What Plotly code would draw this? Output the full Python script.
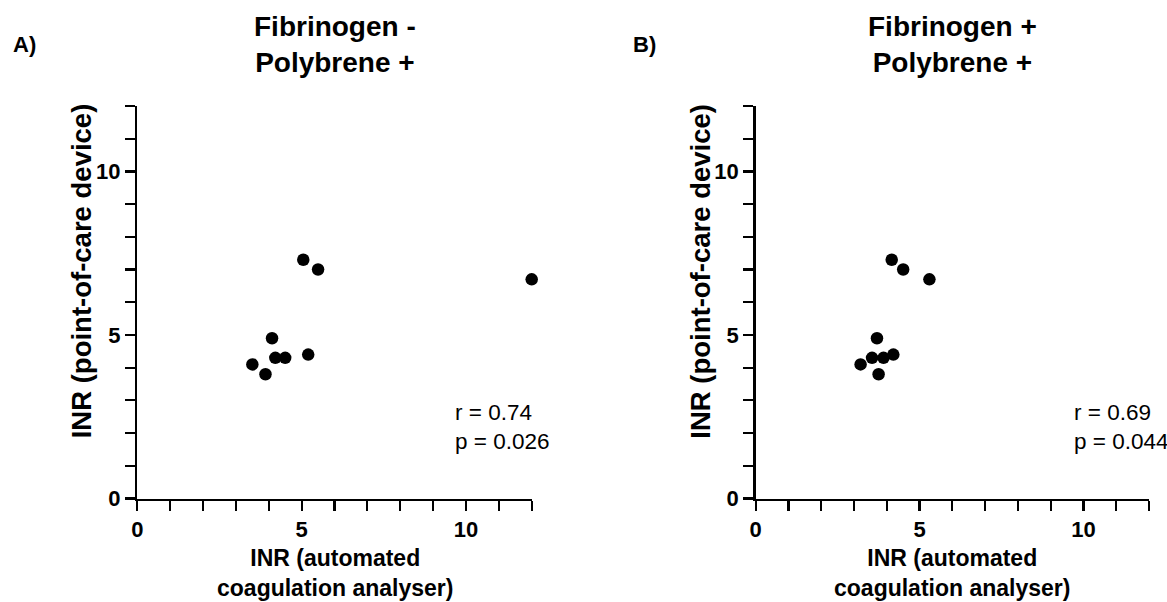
import plotly.graph_objects as go

# Data
poc_inr = [7.3, 7.0, 4.9, 4.3, 4.3, 4.4, 4.1, 3.8, 6.7]              # y (point-of-care device)
lab_inr_A = [5.05, 5.5, 4.1, 4.2, 4.5, 5.2, 3.5, 3.9, 12.0]           # x, panel A
lab_inr_B = [4.15, 4.5, 3.7, 3.55, 3.9, 4.2, 3.2, 3.75, 5.3]          # x, panel B
panel_labels = ["A)", "B)"]
panel_titles = ["Fibrinogen -<br>Polybrene +", "Fibrinogen +<br>Polybrene +"]
stats = ["r = 0.74<br>p = 0.026", "r = 0.69<br>p = 0.044"]
tick_vals = [0, 5, 10]
tick_text = ["0", "5", "10"]
axis_range = [0, 12]
x_title = "INR (automated<br>coagulation analyser)"
y_title = "INR (point-of-care device)"

W, H = 1167, 602
OFF = 0  # page body margin removed via post_script
FONT = "Arial, Liberation Sans, Helvetica, sans-serif"

def px_x(p):
    return (p - OFF) / W

def px_y(p):
    return 1 - (p - OFF) / H

domA = [px_x(137.3), px_x(531.7)]
domB = [px_x(755.7), px_x(1149.0)]
domY = [px_y(498.5), px_y(106.0)]

fig = go.Figure()
fig.add_trace(go.Scatter(x=lab_inr_A, y=poc_inr, mode="markers",
                         marker=dict(color="black", size=12.5),
                         cliponaxis=False,
                         xaxis="x", yaxis="y", showlegend=False))
fig.add_trace(go.Scatter(x=lab_inr_B, y=poc_inr, mode="markers",
                         marker=dict(color="black", size=12.5),
                         cliponaxis=False,
                         xaxis="x2", yaxis="y2", showlegend=False))

def axis_style(**kw):
    d = dict(range=axis_range, showgrid=False, zeroline=False, showline=True,
             linecolor="black", linewidth=2.5, ticks="outside", ticklen=10,
             tickwidth=2.2, tickcolor="black", tickvals=tick_vals, ticktext=tick_text,
             tickfont=dict(family=FONT, size=22, color="black", weight="bold"),
             minor=dict(dtick=1, tick0=0, ticks="outside", ticklen=10,
                        tickwidth=2.2, tickcolor="black", showgrid=False),
             automargin=False, fixedrange=True)
    d.update(kw)
    return d

fig.update_layout(
    width=W, height=H,
    margin=dict(l=0, r=0, t=0, b=0, autoexpand=False),
    plot_bgcolor="white", paper_bgcolor="white",
    hovermode=False,
    xaxis=axis_style(domain=domA, anchor="y"),
    yaxis=axis_style(domain=domY, anchor="x"),
    xaxis2=axis_style(domain=domB, anchor="y2"),
    yaxis2=axis_style(domain=domY, anchor="x2"),
)

anns = []
for i, (x0px, x1px, lab_x, stat_x) in enumerate([(137.3, 531.7, 24, 453),
                                                   (755.7, 1149.0, 644, 1072)]):
    cx = px_x((x0px + x1px) / 2)
    # panel label
    anns.append(dict(text="<b>" + panel_labels[i] + "</b>", x=px_x(lab_x), y=px_y(45),
                     xref="paper", yref="paper", showarrow=False,
                     xanchor="center", yanchor="middle",
                     font=dict(family=FONT, size=22, color="black")))
    # title
    anns.append(dict(text="<b>" + panel_titles[i] + "</b>", x=cx, y=px_y(44),
                     xref="paper", yref="paper", showarrow=False,
                     xanchor="center", yanchor="middle",
                     font=dict(family=FONT, size=28, color="black")))
    # x-axis title
    anns.append(dict(text="<b>" + x_title + "</b>", x=cx, y=px_y(573),
                     xref="paper", yref="paper", showarrow=False,
                     xanchor="center", yanchor="middle",
                     font=dict(family=FONT, size=23, color="black")))
    # y-axis title
    anns.append(dict(text="<b>" + y_title + "</b>", x=px_x(x0px - 56), y=px_y(271),
                     xref="paper", yref="paper", showarrow=False, textangle=-90,
                     xanchor="center", yanchor="middle",
                     font=dict(family=FONT, size=27.5, color="black")))
    # stats
    anns.append(dict(text=stats[i], x=px_x(stat_x), y=px_y(427),
                     xref="paper", yref="paper", showarrow=False, align="left",
                     xanchor="left", yanchor="middle",
                     font=dict(family=FONT, size=22.5, color="black")))

fig.update_layout(annotations=anns)
fig.write_html(
    "out.html",
    config={"displayModeBar": False, "staticPlot": True},
    post_script="document.body.style.margin='0px';document.body.style.overflow='hidden';"
                "document.documentElement.style.overflow='hidden';",
)
